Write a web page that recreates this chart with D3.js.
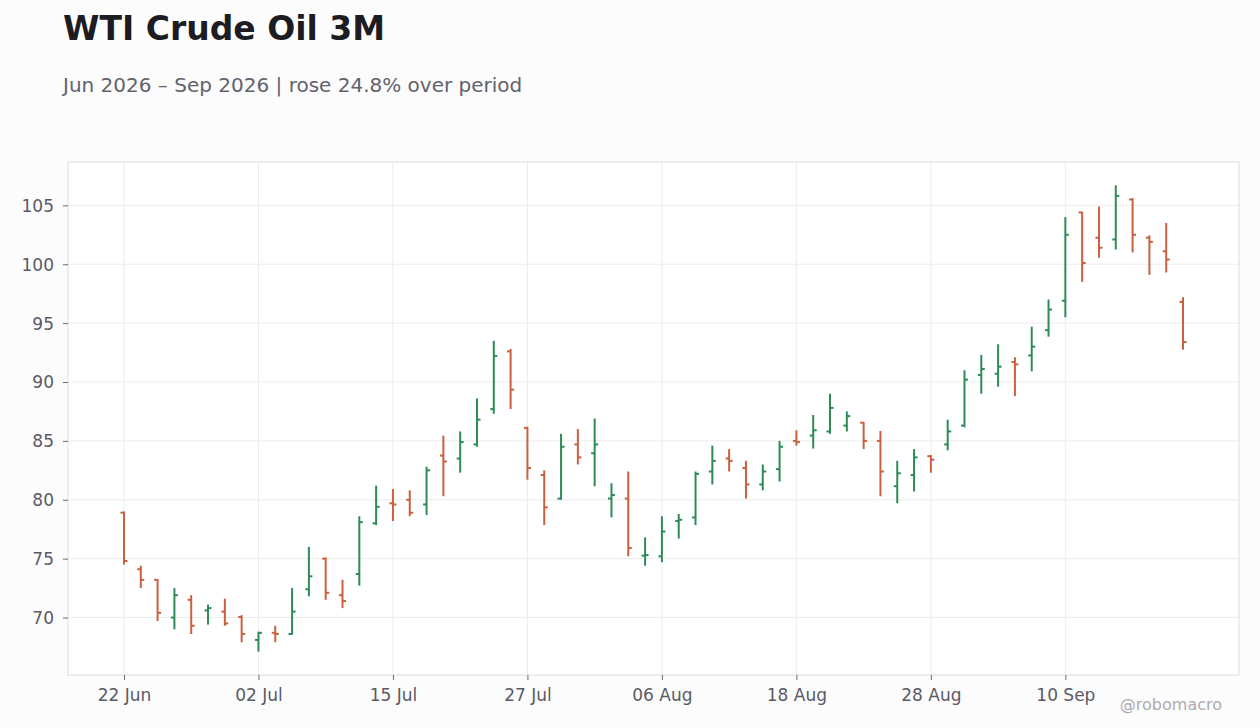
<!DOCTYPE html>
<html>
<head>
<meta charset="utf-8">
<script src="https://cdn.jsdelivr.net/npm/d3@7"></script>
<style>
  body { margin: 0; background: #fcfcfc; font-family: "DejaVu Sans", sans-serif; }
  .axis text { fill: #5a5a66; font-size: 17px; font-family: "DejaVu Sans", sans-serif; }
  .axis line { stroke: #6a6a72; }
  .axis path { display: none; }
</style>
</head>
<body>
<div id="chart"></div>
<script>
const dates = [
  "2026-06-22","2026-06-23","2026-06-24","2026-06-25","2026-06-26","2026-06-29","2026-06-30",
  "2026-07-01","2026-07-02","2026-07-06","2026-07-07","2026-07-08","2026-07-09","2026-07-10",
  "2026-07-13","2026-07-14","2026-07-15","2026-07-16","2026-07-17","2026-07-20","2026-07-21",
  "2026-07-22","2026-07-23","2026-07-24","2026-07-27","2026-07-28","2026-07-29","2026-07-30",
  "2026-07-31","2026-08-03","2026-08-04","2026-08-05","2026-08-06","2026-08-07","2026-08-10",
  "2026-08-11","2026-08-12","2026-08-13","2026-08-14","2026-08-17","2026-08-18","2026-08-19",
  "2026-08-20","2026-08-21","2026-08-24","2026-08-25","2026-08-26","2026-08-27","2026-08-28",
  "2026-08-31","2026-09-01","2026-09-02","2026-09-03","2026-09-04","2026-09-08","2026-09-09",
  "2026-09-10","2026-09-11","2026-09-14","2026-09-15","2026-09-16","2026-09-17","2026-09-18",
  "2026-09-21"
];
const opens = [
  78.9, 74.1, 73.2, 70.0, 71.5, 70.6, 70.5, 70.05, 68.1, 68.7,
  68.6, 72.4, 75.0, 71.9, 73.7, 78.0, 79.7, 80.0, 79.6, 83.75,
  83.5, 84.7, 87.7, 92.6, 86.1, 82.1, 80.1, 84.7, 83.95, 80.1,
  80.1, 75.25, 75.2, 78.2, 78.5, 82.4, 83.5, 82.7, 81.3, 82.6,
  85.0, 85.45, 85.8, 86.3, 86.55, 85.0, 81.15, 82.1, 83.7, 84.7,
  86.3, 90.6, 90.7, 91.7, 92.25, 94.4, 96.9, 104.4, 102.25, 102.1,
  105.5, 102.25, 101.1, 96.8
];
const highs = [
  79.0, 74.4, 73.25, 72.5, 71.9, 71.1, 71.6, 70.2, 68.8, 69.3,
  72.5, 76.0, 75.1, 73.2, 78.6, 81.2, 80.9, 80.8, 82.8, 85.45,
  85.8, 88.6, 93.5, 92.8, 86.2, 82.5, 85.6, 86.0, 86.9, 81.4,
  82.4, 76.8, 78.6, 78.8, 82.4, 84.6, 84.3, 83.3, 83.0, 85.0,
  85.9, 87.2, 89.0, 87.5, 86.6, 85.85, 83.3, 84.3, 83.8, 86.8,
  91.0, 92.3, 93.2, 92.1, 94.7, 97.0, 104.0, 104.45, 104.9, 106.7,
  105.6, 102.45, 103.5, 97.2
];
const lows = [
  74.5, 72.5, 69.7, 69.0, 68.6, 69.4, 69.3, 67.9, 67.1, 67.9,
  68.55, 71.8, 71.5, 70.8, 72.7, 77.85, 78.2, 78.6, 78.7, 80.3,
  82.3, 84.5, 87.3, 87.7, 81.7, 77.85, 80.0, 83.0, 81.15, 78.5,
  75.2, 74.4, 74.7, 76.7, 77.85, 81.3, 82.4, 80.1, 80.8, 81.55,
  84.6, 84.35, 85.6, 85.8, 84.3, 80.3, 79.7, 80.7, 82.3, 84.2,
  86.15, 89.0, 89.6, 88.8, 90.9, 93.85, 95.5, 98.5, 100.55, 101.25,
  101.0, 99.1, 99.3, 92.75
];
const closes = [
  74.8, 73.2, 70.4, 71.9, 69.3, 70.8, 69.5, 68.6, 68.7, 68.6,
  70.5, 73.5, 72.1, 71.4, 78.1, 79.4, 79.6, 78.9, 82.5, 83.25,
  84.9, 86.8, 92.2, 89.35, 82.7, 79.35, 84.5, 83.6, 84.7, 80.4,
  75.9, 75.3, 77.3, 78.3, 82.2, 83.3, 83.3, 81.3, 82.4, 84.5,
  84.9, 85.9, 87.8, 87.1, 85.0, 82.4, 82.25, 83.6, 83.4, 85.8,
  90.2, 91.1, 91.3, 91.5, 93.0, 96.15, 102.5, 100.1, 101.4, 105.8,
  102.5, 101.9, 100.4, 93.4
];

const title = "WTI Crude Oil 3M";
const subtitle = "Jun 2026 – Sep 2026 | rose 24.8% over period";
const credit = "@robomacro";
const upColor = "#2e8b57";
const downColor = "#c9603e";

const W = 1260, H = 728;
const margin = {top: 162, right: 21, bottom: 53, left: 68};
const innerW = W - margin.left - margin.right;
const innerH = H - margin.top - margin.bottom;

const parse = d3.timeParse("%Y-%m-%d");
const fmt = d3.timeFormat("%d %b");
const bars = dates.map((d, i) => ({
  i, date: parse(d), open: opens[i], high: highs[i], low: lows[i], close: closes[i]
}));

const svg = d3.select("#chart").append("svg")
  .attr("width", W)
  .attr("height", H);

svg.append("text")
  .attr("x", 63).attr("y", 40)
  .style("font-size", "33px").style("font-weight", "bold")
  .style("fill", "#1c1c22")
  .text(title);

svg.append("text")
  .attr("x", 63).attr("y", 92)
  .style("font-size", "20px")
  .style("fill", "#62626c")
  .text(subtitle);

const g = svg.append("g")
  .attr("transform", `translate(${margin.left},${margin.top})`);

g.append("rect")
  .attr("width", innerW).attr("height", innerH)
  .attr("fill", "#fff");

const pad = 3.33;
const x = d3.scaleLinear()
  .domain([-pad, bars.length - 1 + pad])
  .range([0, innerW]);

const lo = d3.min(lows), hi = d3.max(highs);
const yPad = (hi - lo) * 0.05;
const y = d3.scaleLinear()
  .domain([lo - yPad, hi + yPad])
  .range([innerH, 0]);

const tickIdx = d3.range(0, bars.length, 8);

// grid
g.append("g").selectAll("line")
  .data(y.ticks(8))
  .join("line")
  .attr("x1", 0).attr("x2", innerW)
  .attr("y1", d => y(d)).attr("y2", d => y(d))
  .attr("stroke", "#ececec");

g.append("g").selectAll("line")
  .data(tickIdx)
  .join("line")
  .attr("x1", d => x(d)).attr("x2", d => x(d))
  .attr("y1", 0).attr("y2", innerH)
  .attr("stroke", "#ececec");

// frame
g.append("rect")
  .attr("width", innerW).attr("height", innerH)
  .attr("fill", "none")
  .attr("stroke", "#dcdcdf");

// axes
g.append("g")
  .attr("class", "axis")
  .call(d3.axisLeft(y).ticks(8).tickSize(5).tickPadding(9))
  .selectAll("text").attr("dy", "0.35em");

g.append("g")
  .attr("class", "axis")
  .attr("transform", `translate(0,${innerH})`)
  .call(d3.axisBottom(x).tickValues(tickIdx).tickSize(5).tickPadding(9)
    .tickFormat(d => fmt(bars[d].date)));

// OHLC bars
const ohlc = g.append("g").selectAll("g")
  .data(bars)
  .join("g")
  .attr("stroke", d => d.close >= d.open ? upColor : downColor)
  .attr("stroke-width", 2);

ohlc.append("line")
  .attr("x1", d => x(d.i)).attr("x2", d => x(d.i))
  .attr("y1", d => y(d.low)).attr("y2", d => y(d.high));

ohlc.append("line")
  .attr("x1", d => x(d.i) - 3.5).attr("x2", d => x(d.i))
  .attr("y1", d => y(d.open)).attr("y2", d => y(d.open));

ohlc.append("line")
  .attr("x1", d => x(d.i)).attr("x2", d => x(d.i) + 3.5)
  .attr("y1", d => y(d.close)).attr("y2", d => y(d.close));

svg.append("text")
  .attr("x", 1222).attr("y", 710)
  .attr("text-anchor", "end")
  .style("font-size", "16px")
  .style("fill", "#ababb0")
  .text(credit);
</script>
</body>
</html>
